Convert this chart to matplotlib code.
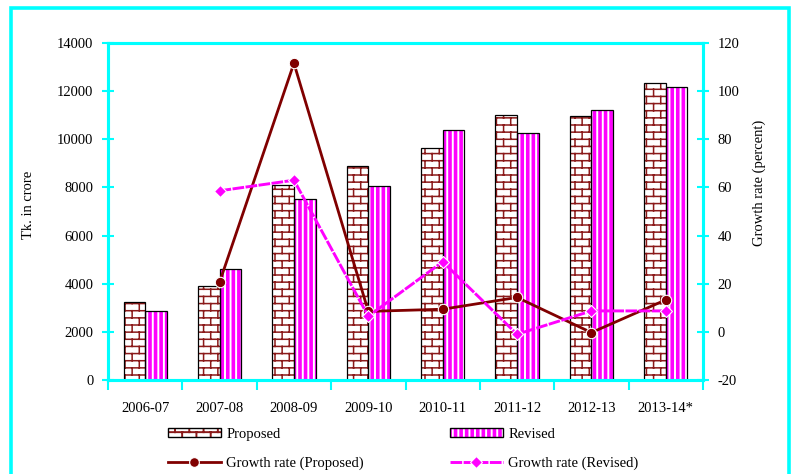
import numpy as np
import matplotlib
matplotlib.use('Agg')
import matplotlib.pyplot as plt
import matplotlib.hatch as mhatch
from matplotlib.path import Path
from matplotlib.patches import Rectangle, Patch
from matplotlib.lines import Line2D
from matplotlib.legend_handler import HandlerTuple

# ---------------- data ----------------
years = ['2006-07', '2007-08', '2008-09', '2009-10', '2010-11', '2011-12', '2012-13', '2013-14*']
proposed = [3230, 3890, 8100, 8870, 9650, 11020, 10970, 12330]
revised = [2880, 4620, 7510, 8040, 10400, 10280, 11230, 12190]
growth_proposed = [np.nan, 20.6, 111.6, 8.5, 9.4, 14.3, -0.3, 13.3]
growth_revised = [np.nan, 58.6, 63.0, 6.5, 29.1, -1.0, 8.7, 8.7]
left_ticks = [0, 2000, 4000, 6000, 8000, 10000, 12000, 14000]
right_ticks = [-20, 0, 20, 40, 60, 80, 100, 120]


# ---------------- brick hatch ----------------
class BrickHatch(mhatch.HatchPatternBase):
    rows = 14
    cols = 7

    def __init__(self, hatch, density):
        self.active = hatch.count('o') > 0
        if self.active:
            self.num_vertices = self.rows * 2 + (self.rows + 1) * self.cols * 2
        else:
            self.num_vertices = 0

    def set_vertices_and_codes(self, vertices, codes):
        v = []
        for r in range(self.rows):
            y = (r + 0.5) / self.rows
            v += [(0.0, y), (1.0, y)]
        for r in range(self.rows + 1):
            y0 = (r - 0.5) / self.rows
            y1 = (r + 0.5) / self.rows
            off = 0.25 + 0.5 * (r % 2)
            for j in range(self.cols):
                xx = (j + off) / self.cols
                v += [(xx, y0), (xx, y1)]
        vertices[:] = np.array(v)
        codes[0::2] = Path.MOVETO
        codes[1::2] = Path.LINETO


mhatch._hatch_types = [mhatch.VerticalHatch, BrickHatch]

plt.rcParams['font.family'] = ['Liberation Serif', 'DejaVu Serif']
FS = 10.5
CYAN = '#00FFFF'
BRICK = '#8B1A1A'
MAG = '#FF00FF'
DARKRED = '#800000'

fig = plt.figure(figsize=(7.92, 4.74), dpi=100)
ax = fig.add_axes([108 / 792, 1 - 380 / 474, (703 - 108) / 792, (380 - 43) / 474])

x = np.arange(len(years))
w = 0.29

plt.rcParams['hatch.linewidth'] = 1.1
b1 = ax.bar(x - w / 2, proposed, w, color='white', edgecolor=BRICK, hatch='o', linewidth=0, zorder=2)
plt.rcParams['hatch.linewidth'] = 1.4
b2 = ax.bar(x + w / 2, revised, w, color=MAG, edgecolor='white', hatch='|||', linewidth=0, zorder=2)
for p in b1:
    if hasattr(p, 'set_hatch_linewidth'):
        p.set_hatch_linewidth(1.1)
for p in b2:
    if hasattr(p, 'set_hatch_linewidth'):
        p.set_hatch_linewidth(1.4)
ax.bar(x - w / 2, proposed, w, fill=False, edgecolor='black', linewidth=0.9, zorder=3)
ax.bar(x + w / 2, revised, w, fill=False, edgecolor='black', linewidth=0.9, zorder=3)

ax.set_xlim(-0.5, len(years) - 0.5)
ax.set_ylim(0, 14000)
ax.set_yticks(left_ticks)
ax.set_yticklabels([str(t) for t in left_ticks], fontsize=FS)
ax.set_xticks(x)
ax.set_xticklabels(years, fontsize=FS)
ax.set_xticks(np.arange(len(years) + 1) - 0.5, minor=True)
ax.tick_params(axis='x', which='major', length=0, pad=16)
ax.tick_params(axis='x', which='minor', length=7, width=1.5, color=CYAN, direction='out')
ax.tick_params(axis='y', length=9, width=1.5, color=CYAN, direction='inout', pad=6)

ax2 = ax.twinx()
ax2.set_ylim(-20, 120)
ax2.set_yticks(right_ticks)
ax2.set_yticklabels([str(t) for t in right_ticks], fontsize=FS)
ax2.tick_params(axis='y', length=9, width=1.5, color=CYAN, direction='inout', pad=6)

REV_LS = (0, (4, 0.5))
ax2.plot(x, growth_proposed, color=DARKRED, lw=2.0, marker='o', ms=7.5,
         mfc=DARKRED, mec='white', mew=0.8, zorder=4)
ax2.plot(x, growth_revised, color=MAG, lw=2.1, ls=REV_LS, marker='D', ms=6.5,
         mfc=MAG, mec='white', mew=0.8, zorder=5)

for a in (ax, ax2):
    for s in a.spines.values():
        s.set_color(CYAN)
        s.set_linewidth(2.2)

ax.set_ylabel('Tk. in crore', fontsize=FS)
ax.yaxis.set_label_coords(-0.1227, 0.52)
ax2.set_ylabel('Growth rate (percent)', fontsize=FS, rotation=90)
ax2.yaxis.set_label_coords(1.084, 0.585)

# legend
h_prop = (Patch(facecolor='white', edgecolor=BRICK, hatch='o', linewidth=0),
          Patch(fill=False, edgecolor='black', linewidth=1.0))
h_rev = (Patch(facecolor=MAG, edgecolor='white', hatch='|||', linewidth=0),
         Patch(fill=False, edgecolor='black', linewidth=1.0))
h_gp = Line2D([], [], color=DARKRED, lw=2.0, marker='o', ms=7, mfc=DARKRED, mec='white', mew=0.8)
h_gr = Line2D([], [], color=MAG, lw=2.1, ls=REV_LS, marker='D', ms=6, mfc=MAG, mec='white', mew=0.8)

legkw = dict(frameon=False, fontsize=FS, handlelength=3.6, handleheight=0.55,
             labelspacing=1.05, handletextpad=0.4, borderpad=0, borderaxespad=0,
             loc='upper left', handler_map={tuple: HandlerTuple(ndivide=1, pad=0)})
fig.legend([h_prop, h_gp], ['Proposed', 'Growth rate (Proposed)'],
           bbox_to_anchor=(168 / 792, 1 - 428 / 474), **legkw)
fig.legend([h_rev, h_gr], ['Revised', 'Growth rate (Revised)'],
           bbox_to_anchor=(450 / 792, 1 - 428 / 474), **legkw)

# outer frame
frame = Rectangle((11 / 792, -0.1), (789 - 11) / 792, (1 - 8 / 474) + 0.1,
                  transform=fig.transFigure, fill=False, edgecolor=CYAN,
                  linewidth=2.6, clip_on=False)
fig.add_artist(frame)

fig.savefig('out.png', dpi=100)
